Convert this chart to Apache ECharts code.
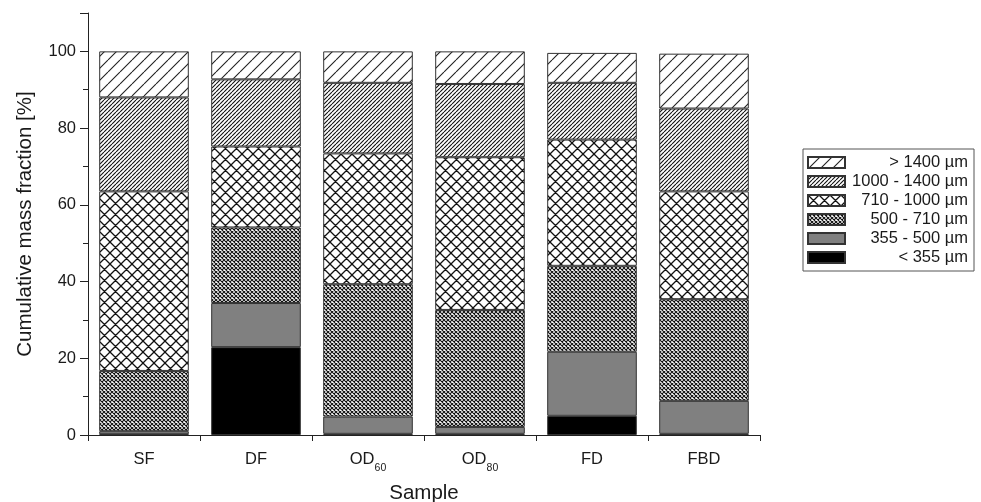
<!DOCTYPE html>
<html>
<head>
<meta charset="utf-8">
<script src="https://cdn.jsdelivr.net/npm/echarts@6/dist/echarts.min.js"></script>
<style>
  html, body { margin: 0; padding: 0; background: #fff; }
  #chart { width: 981px; height: 502px; }
</style>
</head>
<body>
<div id="chart"></div>
<script>
// samples on the x axis
var samples = ['SF', 'DF', 'OD60', 'OD80', 'FD', 'FBD'];
// size classes, bottom of the stack first
var classNames = ['< 355 µm', '355 - 500 µm', '500 - 710 µm', '710 - 1000 µm', '1000 - 1400 µm', '> 1400 µm'];
// mass fraction of each class per sample [%]
var below355   = [0.2, 22.9, 0.3, 0.3, 5.0, 0.3];
var c355_500   = [0.8, 11.5, 4.5, 1.8, 16.7, 8.6];
var c500_710   = [15.7, 19.7, 34.5, 30.5, 22.4, 26.5];
var c710_1000  = [46.8, 21.1, 34.1, 39.8, 32.9, 28.1];
var c1000_1400 = [24.5, 17.5, 18.4, 19.1, 14.8, 21.6];
var above1400  = [12.0, 7.3, 8.2, 8.5, 7.8, 14.3];
var yTicks = [0, 20, 40, 60, 80, 100];

var FONT = '"Liberation Sans", Arial, sans-serif';
var INK = '#1a1a1a';

// hatch patterns drawn on small canvases
function hatch(step, fwd, back, lw, col) {
    var c = document.createElement('canvas');
    c.width = step; c.height = step;
    var g = c.getContext('2d');
    g.fillStyle = '#fff';
    g.fillRect(0, 0, step, step);
    g.strokeStyle = col;
    g.lineWidth = lw;
    g.beginPath();
    for (var k = -1; k <= 1; k++) {
        if (fwd) { g.moveTo(k * step, step); g.lineTo(k * step + step, 0); }
        if (back) { g.moveTo(k * step, 0); g.lineTo(k * step + step, step); }
    }
    g.stroke();
    return { image: c, repeat: 'repeat' };
}

var fills = [
    '#000000',
    '#808080',
    hatch(4, true, true, 1.1, '#111'),
    hatch(11, true, true, 1.3, '#111'),
    hatch(4, true, false, 1.1, '#111'),
    hatch(12, true, false, 1.1, '#222')
];
var values = [below355, c355_500, c500_710, c710_1000, c1000_1400, above1400];

var series = [];
for (var i = 0; i < classNames.length; i++) {
    series.push({
        name: classNames[i],
        type: 'bar',
        stack: 'total',
        barWidth: '80%',
        xAxisIndex: 0,
        yAxisIndex: 0,
        itemStyle: {
            color: fills[i],
            borderColor: '#333',
            borderWidth: 1
        },
        emphasis: { disabled: true },
        data: values[i]
    });
}

var chart = echarts.init(document.getElementById('chart'), null, { renderer: 'canvas' });
var option = {
    backgroundColor: '#fff',
    animation: false,
    textStyle: { fontFamily: FONT },
    grid: { left: 88, right: 221, top: 13, bottom: 67, outerBoundsMode: 'none', containLabel: false },
    legend: {
        orient: 'vertical',
        left: 803,
        top: 149,
        padding: [5, 6, 5, 4],
        itemGap: 2,
        itemWidth: 37,
        itemHeight: 11,
        icon: 'rect',
        borderColor: '#555',
        borderWidth: 1,
        data: classNames.slice().reverse(),
        formatter: function (name) { return '{t|' + name + '}'; },
        textStyle: {
            rich: {
                t: { width: 118, align: 'right', fontSize: 16.5, lineHeight: 18, color: INK, fontFamily: FONT }
            }
        }
    },
    xAxis: [
        {
            type: 'category',
            data: samples,
            position: 'bottom',
            name: 'Sample',
            nameLocation: 'middle',
            nameGap: 48,
            nameTextStyle: { fontSize: 20.5, color: INK, fontFamily: FONT },
            axisLine: { lineStyle: { color: '#222', width: 1 } },
            axisTick: { alignWithLabel: true, length: 10, lineStyle: { color: '#222' } },
            axisLabel: {
                interval: 0,
                margin: 16,
                fontSize: 16.5,
                color: INK,
                verticalAlign: 'top',
                formatter: function (v) {
                    var m = /^(OD)(\d+)$/.exec(v);
                    return m ? '{m|' + m[1] + '}{s|' + m[2] + '}' : v;
                },
                rich: {
                    m: { fontSize: 16.5, lineHeight: 19, verticalAlign: 'top', color: INK, fontFamily: FONT },
                    s: { fontSize: 10.5, lineHeight: 23, verticalAlign: 'bottom', color: INK, fontFamily: FONT }
                }
            }
        },
        {
            // boundary ticks between the categories
            type: 'category',
            data: samples,
            position: 'bottom',
            axisLine: { show: false },
            axisTick: { show: true, length: 6, lineStyle: { color: '#222' } },
            axisLabel: { show: false }
        }
    ],
    yAxis: [
        {
            type: 'value',
            position: 'left',
            min: 0,
            max: 110,
            interval: 20,
            name: 'Cumulative mass fraction [%]',
            nameLocation: 'middle',
            nameGap: 52,
            nameTextStyle: { fontSize: 20.5, color: INK, fontFamily: FONT },
            axisLine: { show: true, lineStyle: { color: '#222', width: 1 } },
            axisTick: { show: true, length: 8, lineStyle: { color: '#222' } },
            splitLine: { show: false },
            axisLabel: {
                margin: 12,
                fontSize: 16.5,
                color: INK,
                formatter: function (v) { return yTicks.indexOf(v) >= 0 ? String(v) : ''; }
            }
        },
        {
            // minor ticks
            type: 'value',
            position: 'left',
            min: 0,
            max: 110,
            interval: 10,
            axisLine: { show: false },
            axisTick: { show: true, length: 5, lineStyle: { color: '#222' } },
            axisLabel: { show: false },
            splitLine: { show: false }
        }
    ],
    series: series
};
chart.setOption(option);
</script>
</body>
</html>
